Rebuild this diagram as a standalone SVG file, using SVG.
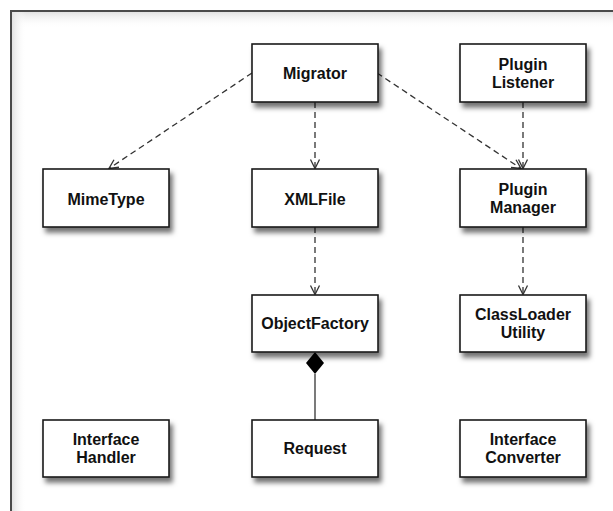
<svg xmlns="http://www.w3.org/2000/svg" width="613" height="511" viewBox="0 0 613 511">
  <defs>
    <style>
      .box { fill: #ffffff; stroke: #1a1a1a; stroke-width: 1.6; }
      .lbl { font-family: "Liberation Sans", Arial, Helvetica, sans-serif; font-weight: bold; font-size: 16px; fill: #111111; text-anchor: middle; }
      .dep { fill: none; stroke: #333333; stroke-width: 1.3; stroke-dasharray: 6 4; }
      .solid { fill: none; stroke: #333333; stroke-width: 1.3; }
      .head { fill: none; stroke: #333333; stroke-width: 1.3; stroke-dasharray: none; }
    </style>
    <filter id="shadow" x="-20%" y="-20%" width="150%" height="160%">
      <feDropShadow dx="3" dy="5" stdDeviation="2.5" flood-color="#000000" flood-opacity="0.55"/>
    </filter>
    <marker id="open" viewBox="-11 -6 12 12" refX="0" refY="0" markerWidth="12" markerHeight="12" markerUnits="userSpaceOnUse" orient="auto">
      <path class="head" d="M-9,-4.5 L0,0 L-9,4.5"/>
    </marker>
    <linearGradient id="topShade" x1="0" y1="0" x2="0" y2="1">
      <stop offset="0" stop-color="#e2e2e2"/>
      <stop offset="1" stop-color="#ffffff" stop-opacity="0"/>
    </linearGradient>
    <linearGradient id="leftShade" x1="0" y1="0" x2="1" y2="0">
      <stop offset="0" stop-color="#e2e2e2"/>
      <stop offset="1" stop-color="#ffffff" stop-opacity="0"/>
    </linearGradient>
  </defs>

  <rect x="0" y="0" width="613" height="511" fill="#ffffff"/>
  <g id="frame">
    <rect x="11" y="11" width="620" height="520" fill="#ffffff" stroke="#4a4a4a" stroke-width="2"/>
    <rect x="12" y="12" width="601" height="16" fill="url(#topShade)"/>
    <rect x="12" y="12" width="14" height="499" fill="url(#leftShade)"/>
  </g>

  <g id="connectors">
    <line class="dep" x1="252" y1="73" x2="109" y2="168.5" marker-end="url(#open)"/>
    <line class="dep" x1="315" y1="102" x2="315" y2="168.5" marker-end="url(#open)"/>
    <line class="dep" x1="377" y1="73" x2="521" y2="168.5" marker-end="url(#open)"/>
    <line class="dep" x1="523" y1="102" x2="523" y2="168.5" marker-end="url(#open)"/>
    <line class="dep" x1="315" y1="227" x2="315" y2="294.5" marker-end="url(#open)"/>
    <line class="dep" x1="523" y1="227" x2="523" y2="294.5" marker-end="url(#open)"/>
    <polygon points="315,352 324,363 315,374 306,363" fill="#000000"/>
    <line class="solid" x1="315" y1="374" x2="315" y2="420"/>
  </g>

  <g id="migrator">
    <rect class="box" x="252" y="44" width="126" height="58" filter="url(#shadow)"/>
    <text class="lbl" x="315" y="78.5">Migrator</text>
  </g>
  <g id="plugin-listener">
    <rect class="box" x="460" y="44" width="126" height="58" filter="url(#shadow)"/>
    <text class="lbl" x="523" y="69.5">Plugin</text>
    <text class="lbl" x="523" y="87.5">Listener</text>
  </g>
  <g id="mimetype">
    <rect class="box" x="43" y="169" width="126" height="58" filter="url(#shadow)"/>
    <text class="lbl" x="106" y="204.5">MimeType</text>
  </g>
  <g id="xmlfile">
    <rect class="box" x="252" y="169" width="126" height="58" filter="url(#shadow)"/>
    <text class="lbl" x="315" y="204.5">XMLFile</text>
  </g>
  <g id="plugin-manager">
    <rect class="box" x="460" y="169" width="126" height="58" filter="url(#shadow)"/>
    <text class="lbl" x="523" y="194.5">Plugin</text>
    <text class="lbl" x="523" y="212.5">Manager</text>
  </g>
  <g id="objectfactory">
    <rect class="box" x="252" y="295" width="126" height="57" filter="url(#shadow)"/>
    <text class="lbl" x="315" y="329">ObjectFactory</text>
  </g>
  <g id="classloader-utility">
    <rect class="box" x="460" y="295" width="126" height="57" filter="url(#shadow)"/>
    <text class="lbl" x="523" y="320">ClassLoader</text>
    <text class="lbl" x="523" y="338">Utility</text>
  </g>
  <g id="interface-handler">
    <rect class="box" x="43" y="420" width="126" height="57" filter="url(#shadow)"/>
    <text class="lbl" x="106" y="445">Interface</text>
    <text class="lbl" x="106" y="463">Handler</text>
  </g>
  <g id="request">
    <rect class="box" x="252" y="420" width="126" height="57" filter="url(#shadow)"/>
    <text class="lbl" x="315" y="454">Request</text>
  </g>
  <g id="interface-converter">
    <rect class="box" x="460" y="420" width="126" height="57" filter="url(#shadow)"/>
    <text class="lbl" x="523" y="445">Interface</text>
    <text class="lbl" x="523" y="463">Converter</text>
  </g>
</svg>
